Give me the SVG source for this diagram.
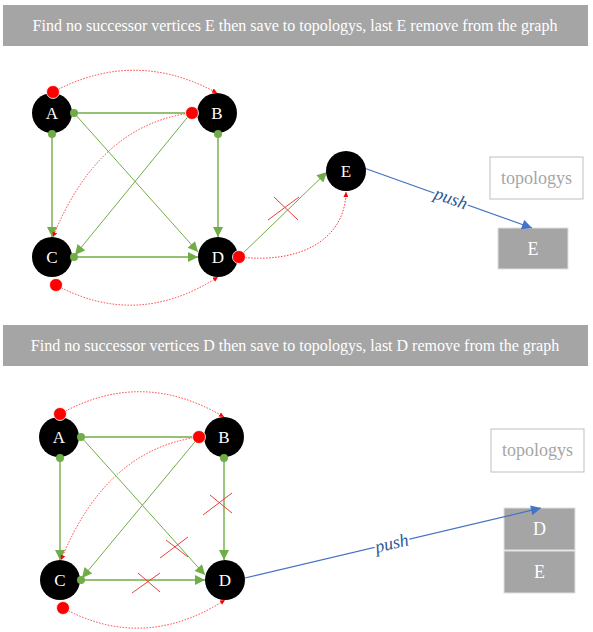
<svg xmlns="http://www.w3.org/2000/svg" width="593" height="632" viewBox="0 0 593 632">
<defs>
<style>
text{font-family:"Liberation Serif","Times New Roman",Times,serif}
.banner{fill:#a5a5a5}
.btxt{font-size:16px;fill:#fff;text-anchor:middle}
.node{fill:#000}
.ntxt{font-size:17px;fill:#fff;text-anchor:middle}
.g{stroke:#70ad47;stroke-width:1.4;fill:none}
.gt{stroke:#70ad47;stroke-width:1;fill:none}
.gd{fill:#70ad47}
.rd{fill:#ff0000;stroke:#fff;stroke-width:0.8}
.dot{stroke:#ff3b3b;stroke-width:1;stroke-dasharray:1.5 1.5;fill:none}
.x{stroke:#e8413a;stroke-width:1}
.push{stroke:#4472c4;stroke-width:1.2;fill:none}
.ptxt{font-size:18px;font-style:italic;fill:#2f5597;text-anchor:middle;paint-order:stroke;stroke:#fff;stroke-width:4px}
.topo{fill:#fff;stroke:#bfbfbf;stroke-width:1}
.ttxt{font-size:18px;fill:#a6a6a6;text-anchor:middle}
.box{fill:#a5a5a5;stroke:#e0e0e0;stroke-width:1}
.boxt{font-size:18px;fill:#fff;text-anchor:middle}
</style>
<marker id="ga" viewBox="0 0 10 10" refX="10" refY="5" markerWidth="11" markerHeight="10" markerUnits="userSpaceOnUse" orient="auto"><path d="M0,0 L10,5 L0,10 z" fill="#70ad47"/></marker>
<marker id="ra" viewBox="0 0 10 10" refX="10" refY="5" markerWidth="5" markerHeight="5" markerUnits="userSpaceOnUse" orient="auto"><path d="M0,0 L10,5 L0,10 z" fill="#ff0000"/></marker>
<marker id="ba" viewBox="0 0 10 10" refX="10" refY="5" markerWidth="12" markerHeight="10" markerUnits="userSpaceOnUse" orient="auto"><path d="M0,0 L10,5 L0,10 z" fill="#4472c4"/></marker>
</defs>
<rect width="593" height="632" fill="#fff"/>

<g id="banner1"><rect class="banner" x="3" y="5" width="585" height="41"/><text class="btxt" x="295" y="31">Find no successor vertices E then save to topologys, last E remove from the graph</text></g>
<g id="banner2"><rect class="banner" x="3" y="325" width="585" height="41"/><text class="btxt" x="295" y="351">Find no successor vertices D then save to topologys, last D remove from the graph</text></g>

<g id="topo1"><rect class="topo" x="490" y="157" width="93" height="42"/><text class="ttxt" x="536.5" y="184">topologys</text></g>
<g id="stackE1"><rect class="box" x="498" y="228" width="70" height="41"/><text class="boxt" x="533" y="255">E</text></g>
<g id="topo2"><rect class="topo" x="491" y="429" width="93" height="43"/><text class="ttxt" x="537.5" y="456">topologys</text></g>
<g id="stackD2"><rect class="box" x="504" y="508" width="71" height="42"/><text class="boxt" x="539.5" y="535">D</text></g>
<g id="stackE2"><rect class="box" x="504" y="551" width="71" height="42"/><text class="boxt" x="539.5" y="578">E</text></g>

<g id="connectors">
<!-- top graph -->
<line class="g" x1="74" y1="113" x2="191" y2="113"/>
<line class="g" x1="52" y1="134" x2="52" y2="237" marker-end="url(#ga)"/>
<line class="g" x1="218" y1="134" x2="218" y2="237" marker-end="url(#ga)"/>
<line class="gt" x1="74" y1="113" x2="198" y2="252" marker-end="url(#ga)"/>
<line class="gt" x1="191" y1="113" x2="75" y2="255" marker-end="url(#ga)"/>
<line class="g" x1="74" y1="257" x2="198" y2="257" marker-end="url(#ga)"/>
<line class="gt" x1="239" y1="257" x2="327" y2="172" marker-end="url(#ga)"/>
<path class="dot" d="M53,92 Q135,48 217,93" marker-end="url(#ra)"/>
<path class="dot" d="M191,113 Q98,125 53,237" marker-end="url(#ra)"/>
<path class="dot" d="M56,285 Q137,329 218,277" marker-end="url(#ra)"/>
<path class="dot" d="M239,257 C300,264 345,240 346,192" marker-end="url(#ra)"/>
<line class="x" x1="268" y1="220" x2="299" y2="197"/>
<line class="x" x1="274" y1="197" x2="298" y2="220"/>
<line class="push" x1="364" y1="168" x2="532" y2="228" marker-end="url(#ba)"/>
<text class="ptxt" transform="translate(449,204) rotate(19.5)">push</text>

<!-- bottom graph -->
<line class="g" x1="81" y1="437" x2="199" y2="437"/>
<line class="g" x1="60" y1="458" x2="60" y2="560" marker-end="url(#ga)"/>
<line class="g" x1="224" y1="458" x2="224" y2="560" marker-end="url(#ga)"/>
<line class="gt" x1="81" y1="437" x2="205" y2="575" marker-end="url(#ga)"/>
<line class="gt" x1="199" y1="437" x2="82" y2="578" marker-end="url(#ga)"/>
<line class="g" x1="81" y1="580" x2="205" y2="580" marker-end="url(#ga)"/>
<path class="dot" d="M60,414 Q142,368 224,417" marker-end="url(#ra)"/>
<path class="dot" d="M199,437 Q106,449 61,560" marker-end="url(#ra)"/>
<path class="dot" d="M63,608 Q144,652 225,600" marker-end="url(#ra)"/>
<line class="x" x1="203" y1="515" x2="232" y2="493"/>
<line class="x" x1="210" y1="495" x2="232" y2="513"/>
<line class="x" x1="160" y1="558" x2="188" y2="537"/>
<line class="x" x1="166" y1="540" x2="188" y2="557"/>
<line class="x" x1="132" y1="593" x2="160" y2="573"/>
<line class="x" x1="138" y1="573" x2="160" y2="592"/>
<line class="push" x1="245" y1="578" x2="541" y2="508" marker-end="url(#ba)"/>
<text class="ptxt" transform="translate(393,549) rotate(-13.3)">push</text>
</g>

<!-- top nodes -->
<g id="A1"><circle class="node" cx="52" cy="113" r="20"/><text class="ntxt" x="52" y="119">A</text><circle class="rd" cx="53" cy="92" r="6.5"/><circle class="gd" cx="74" cy="113" r="4"/><circle class="gd" cx="52" cy="134" r="4"/></g>
<g id="B1"><circle class="node" cx="217" cy="113" r="20"/><text class="ntxt" x="217" y="119">B</text><circle class="rd" cx="192" cy="113" r="6.5"/><circle class="gd" cx="218" cy="134" r="4"/></g>
<g id="C1"><circle class="node" cx="52" cy="257" r="20"/><text class="ntxt" x="52" y="263">C</text><circle class="rd" cx="56" cy="285" r="6.5"/><circle class="gd" cx="74" cy="257" r="4"/></g>
<g id="D1"><circle class="node" cx="218" cy="257" r="20"/><text class="ntxt" x="218" y="263">D</text><circle class="rd" cx="239" cy="257" r="6.5"/></g>
<g id="E1"><circle class="node" cx="346" cy="171" r="20"/><text class="ntxt" x="346" y="177">E</text></g>

<!-- bottom nodes -->
<g id="A2"><circle class="node" cx="59" cy="437" r="20"/><text class="ntxt" x="59" y="443">A</text><circle class="rd" cx="60" cy="414" r="6.5"/><circle class="gd" cx="81" cy="437" r="4"/><circle class="gd" cx="60" cy="458" r="4"/></g>
<g id="B2"><circle class="node" cx="224" cy="437" r="20"/><text class="ntxt" x="224" y="443">B</text><circle class="rd" cx="199" cy="437" r="6.5"/><circle class="gd" cx="224" cy="458" r="4"/></g>
<g id="C2"><circle class="node" cx="60" cy="580" r="20"/><text class="ntxt" x="60" y="586">C</text><circle class="rd" cx="63" cy="608" r="6.5"/><circle class="gd" cx="81" cy="580" r="4"/></g>
<g id="D2"><circle class="node" cx="225" cy="580" r="20"/><text class="ntxt" x="225" y="586">D</text></g>
</svg>
